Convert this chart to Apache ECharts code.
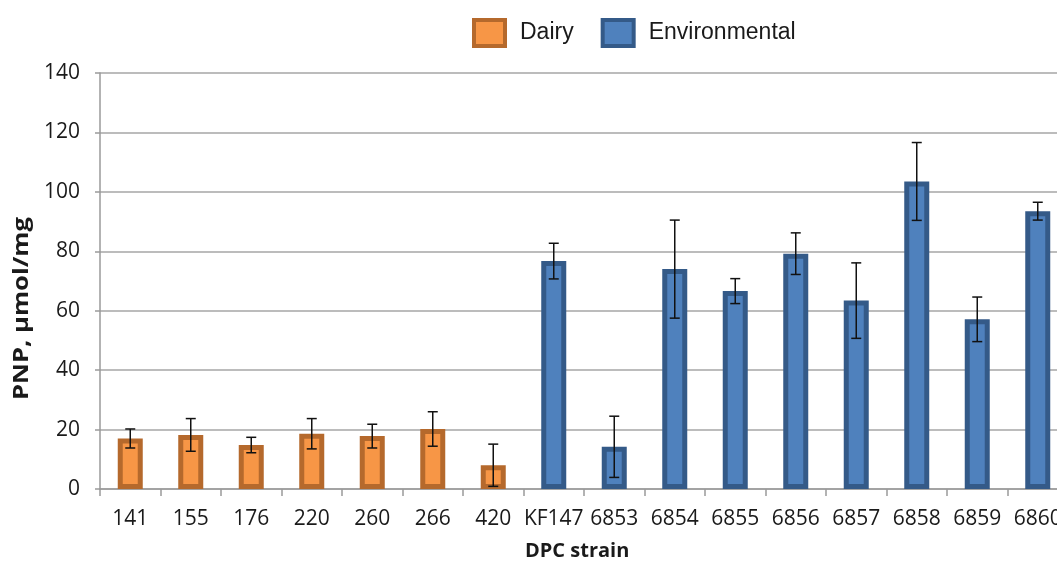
<!DOCTYPE html>
<html>
<head>
<meta charset="utf-8">
<script src="https://cdn.jsdelivr.net/npm/echarts@6/dist/echarts.min.js"></script>
<style>
  html, body { margin: 0; padding: 0; background: #fff; }
  #main { width: 1057px; height: 567px; }
</style>
</head>
<body>
<div id="main"></div>
<script>
// strains, in axis order
let strains = ["141", "155", "176", "220", "260", "266", "420",
    "KF147", "6853", "6854", "6855", "6856", "6857", "6858", "6859", "6860"];
// which group each strain belongs to
let groups = ["Dairy", "Dairy", "Dairy", "Dairy", "Dairy", "Dairy", "Dairy",
    "Environmental", "Environmental", "Environmental", "Environmental", "Environmental",
    "Environmental", "Environmental", "Environmental", "Environmental"];
// PNP, µmol/mg
let pnpMean = [17, 18.2, 14.8, 18.6, 17.8, 20.2, 8,
    76.7, 14.2, 74, 66.6, 79.2, 63.4, 103.5, 57.1, 93.5];
// error bar half-length
let pnpErr = [3.2, 5.5, 2.6, 5.1, 4.0, 5.8, 7.1,
    6, 10.3, 16.5, 4.2, 7, 12.7, 13.1, 7.5, 3];
let yTicks = [0, 20, 40, 60, 80, 100, 120, 140];

let dairyData = pnpMean.map((v, i) => groups[i] === "Dairy" ? v : "-");
let envData = pnpMean.map((v, i) => groups[i] === "Environmental" ? v : "-");
let errData = pnpMean.map((v, i) => [i, v - pnpErr[i], v + pnpErr[i]]);

let chart = echarts.init(document.getElementById("main"));
let option = {
    animation: false,
    legend: {
        data: ["Dairy", "Environmental"],
        left: 467,
        top: 13,
        icon: "rect",
        itemWidth: 31,
        itemHeight: 26,
        itemGap: 27,
        itemStyle: { borderWidth: 4 },
        textStyle: {
            fontFamily: "Liberation Sans",
            fontSize: 23,
            color: "#1a1a1a",
            padding: [0, 0, 0, 10]
        }
    },
    grid: {
        left: 100,
        right: -11,
        top: 73,
        bottom: 78,
        outerBoundsMode: "none"
    },
    // axis titles placed by hand, the y one is stretched like the original
    graphic: [
        {
            type: "text",
            left: 525,
            top: 541,
            style: {
                text: "DPC strain",
                fontFamily: "Open Sans",
                fontWeight: "bold",
                fontSize: 20,
                fill: "#1a1a1a"
            }
        },
        {
            type: "text",
            x: 12,
            y: 400,
            rotation: Math.PI / 2,
            scaleX: 1.22,
            style: {
                text: "PNP, µmol/mg",
                fontFamily: "Open Sans",
                fontWeight: "bold",
                fontSize: 21,
                fill: "#1a1a1a"
            }
        }
    ],
    xAxis: {
        type: "category",
        data: strains,
        axisLine: { lineStyle: { color: "#9a9a9a", width: 1.5 } },
        axisTick: { show: true, length: 7, lineStyle: { color: "#9a9a9a", width: 1.5 } },
        axisLabel: {
            margin: 20,
            fontFamily: "Open Sans",
            fontSize: 21,
            color: "#1a1a1a",
            interval: 0
        }
    },
    yAxis: {
        type: "value",
        min: yTicks[0],
        max: yTicks[yTicks.length - 1],
        interval: 20,
        axisLine: { show: true, lineStyle: { color: "#9a9a9a", width: 1.5 } },
        axisTick: { show: true, length: 5, lineStyle: { color: "#9a9a9a", width: 1.5 } },
        axisLabel: {
            margin: 20,
            fontFamily: "Open Sans",
            fontSize: 21,
            color: "#1a1a1a"
        },
        splitLine: { lineStyle: { color: "#a6a6a6", width: 1.5 } }
    },
    series: [
        {
            name: "Dairy",
            type: "bar",
            data: dairyData,
            barWidth: 25,
            barGap: "-100%",
            itemStyle: { color: "#f79646", borderColor: "#b5692c", borderWidth: 5 }
        },
        {
            name: "Environmental",
            type: "bar",
            data: envData,
            barWidth: 25,
            barGap: "-100%",
            itemStyle: { color: "#4f81bd", borderColor: "#345a88", borderWidth: 5 }
        },
        {
            name: "error",
            type: "custom",
            data: errData,
            z: 10,
            renderItem: function (params, api) {
                let x = api.value(0);
                let lo = api.coord([x, api.value(1)]);
                let hi = api.coord([x, api.value(2)]);
                let cap = 5;
                let style = { stroke: "#111", lineWidth: 1.5 };
                return {
                    type: "group",
                    children: [
                        { type: "line", shape: { x1: hi[0], y1: hi[1], x2: lo[0], y2: lo[1] }, style: style },
                        { type: "line", shape: { x1: hi[0] - cap, y1: hi[1], x2: hi[0] + cap, y2: hi[1] }, style: style },
                        { type: "line", shape: { x1: lo[0] - cap, y1: lo[1], x2: lo[0] + cap, y2: lo[1] }, style: style }
                    ]
                };
            }
        }
    ]
};
chart.setOption(option);
</script>
</body>
</html>
